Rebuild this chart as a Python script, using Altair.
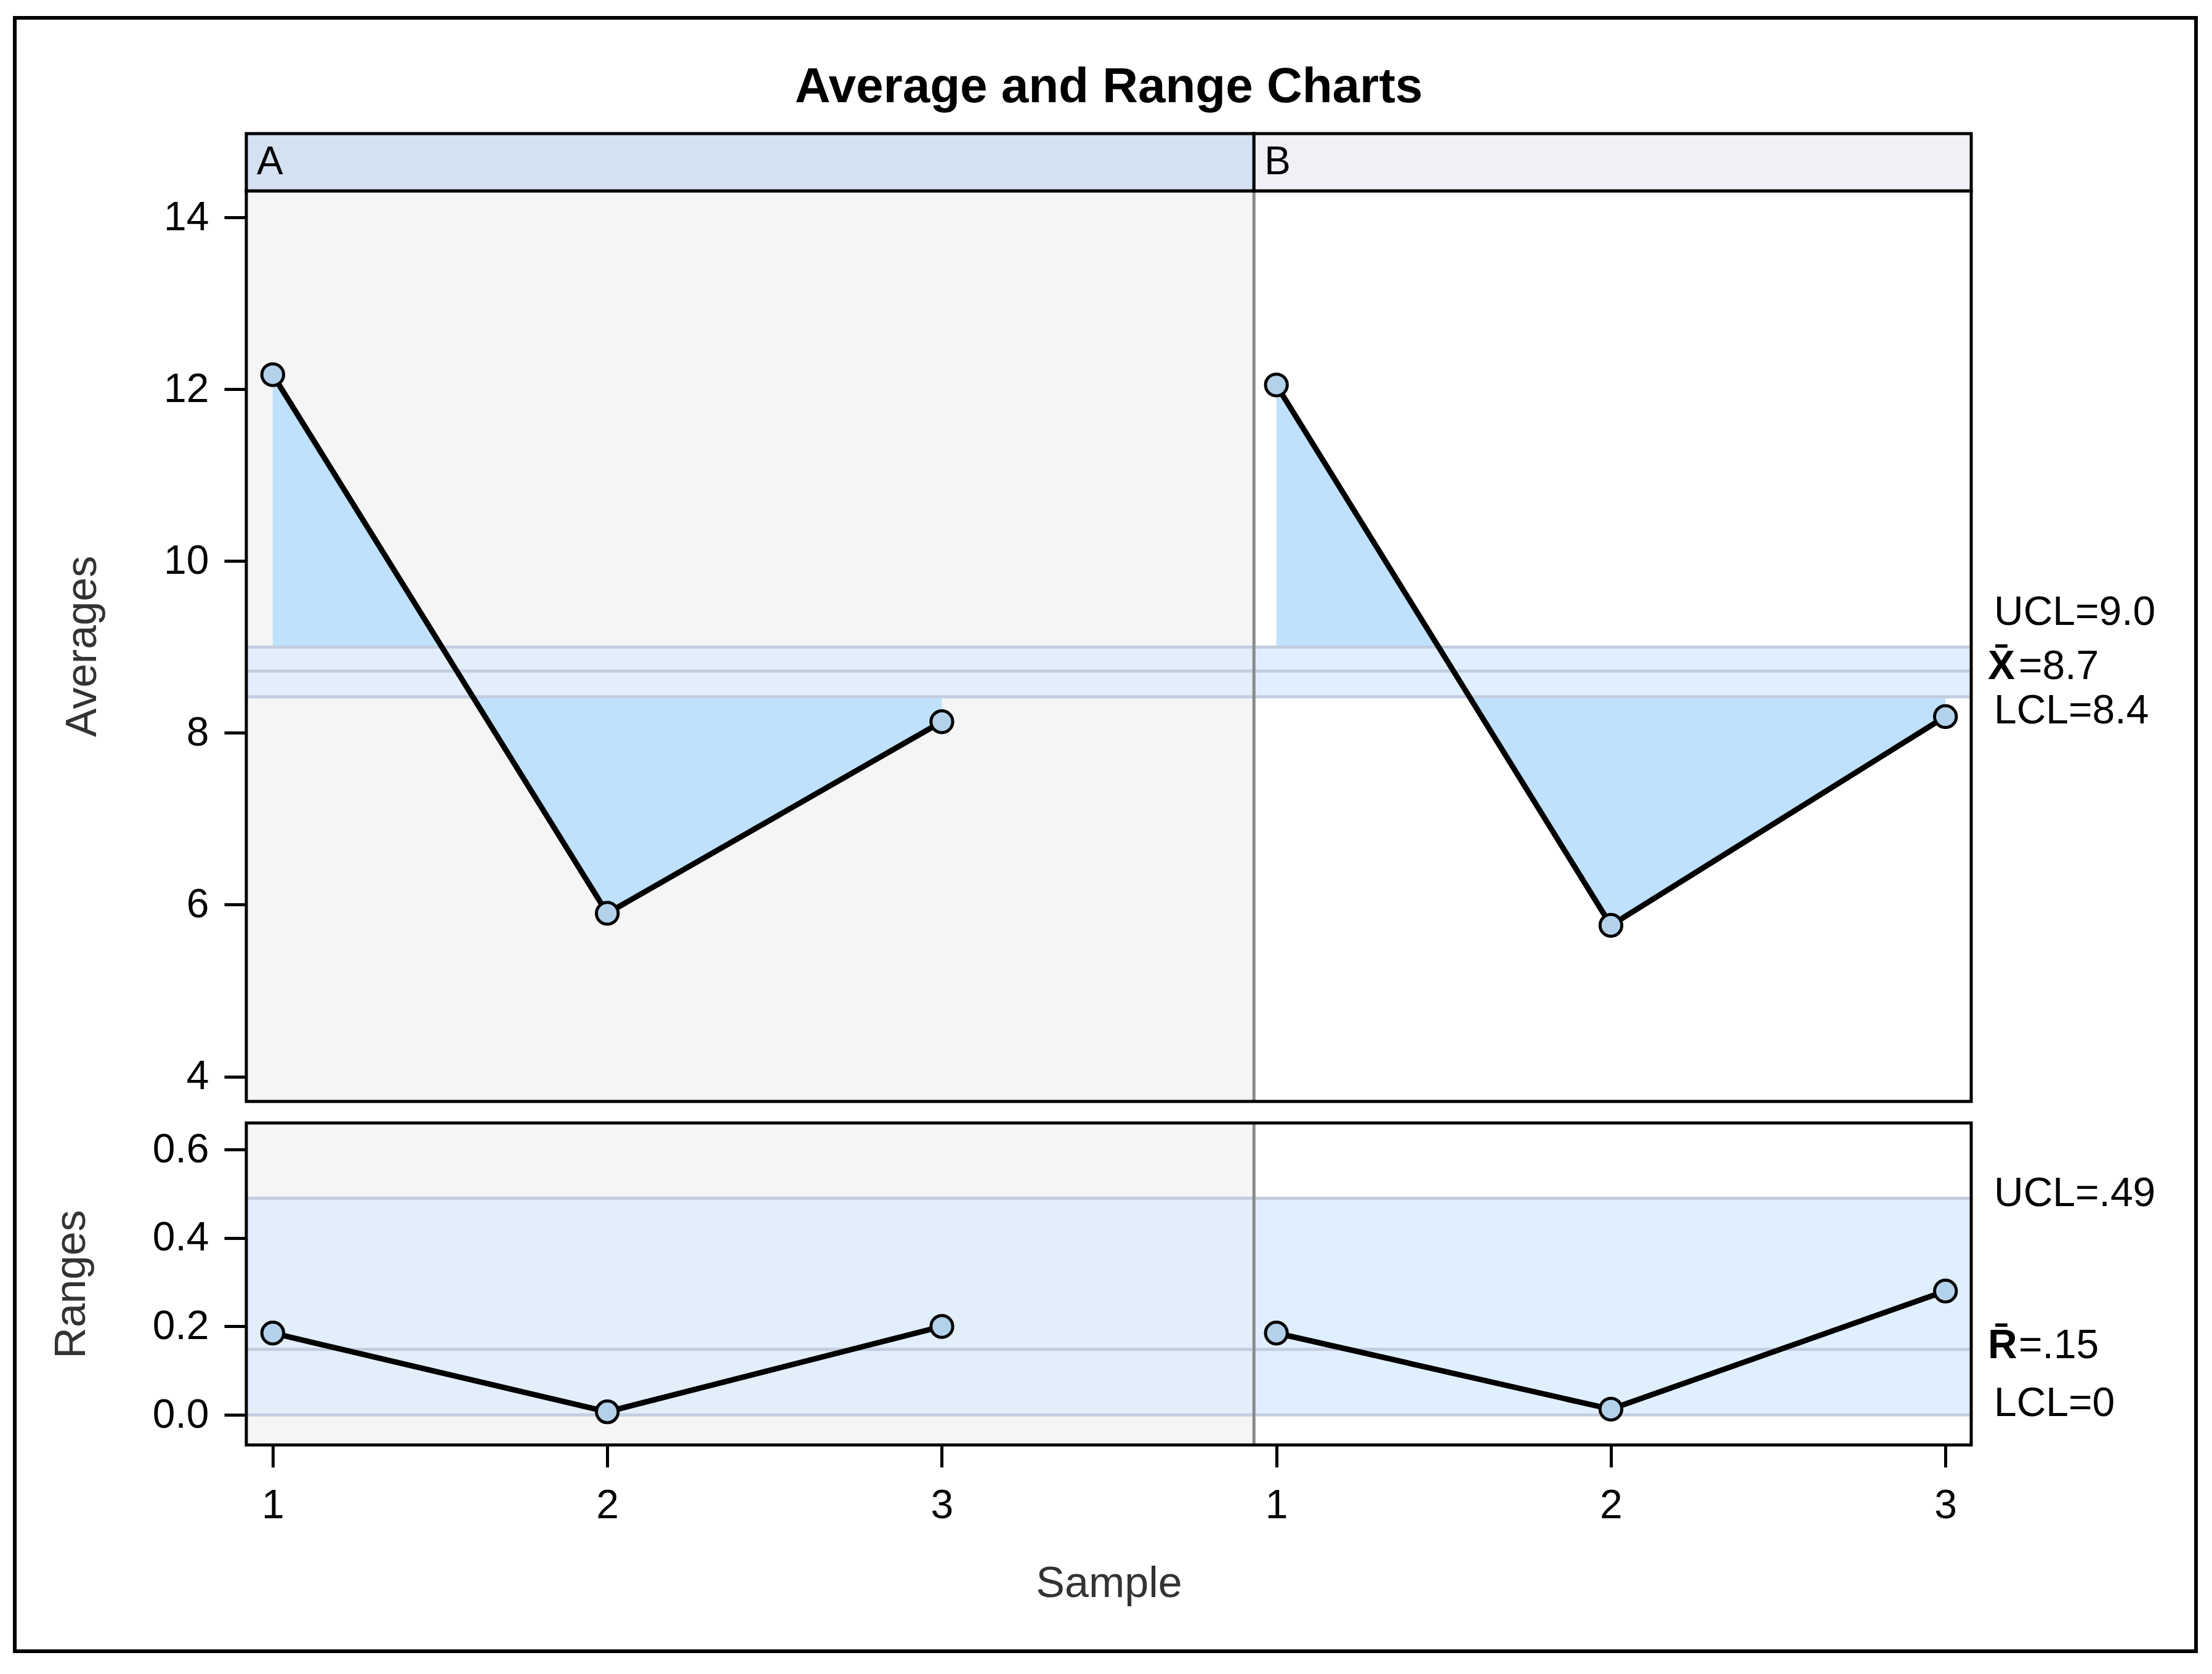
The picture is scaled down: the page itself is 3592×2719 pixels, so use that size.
import altair as alt
import pandas as pd

# ---------------- data ----------------
groups = ["A", "B"]
samples = [1, 2, 3]
averages = {"A": [12.17, 5.90, 8.13], "B": [12.05, 5.76, 8.19]}
ranges = {"A": [0.185, 0.007, 0.20], "B": [0.185, 0.013, 0.28]}

avg_limit_names = ["UCL", "X\u0304", "LCL"]
avg_limit_values = [9.0, 8.72, 8.42]
avg_limit_text = ["9.0", "8.7", "8.4"]

rng_limit_names = ["UCL", "R\u0304", "LCL"]
rng_limit_values = [0.49, 0.148, 0.0]
rng_limit_text = [".49", ".15", "0"]

avg_ticks = [4, 6, 8, 10, 12, 14]
rng_ticks = [0.0, 0.2, 0.4, 0.6]
title_text = "Average and Range Charts"
x_title = "Sample"

# ---------------- layout / style ----------------
FONT = "Liberation Sans"
W = 2801
H1 = 1479
H2 = 523
GAP = 35
HDR = 93
X_LEFT, X_DIV, X_RIGHT = 0.921, 3.933, 6.077
AVG_DOMAIN = [3.71, 14.31]
RNG_DOMAIN = [-0.068, 0.66]

hdr_colors = ["#d4e1f1", "#f0f0f7"]
bg_colors = ["#f5f5f5", "#ffffff"]
band_colors = ["#e2eef9", "#e0effd"]
FILL = "#bfe1fc"
LIMIT_LINE = "#c3cde0"
POINT_FILL = "#b3d1eb"

rows = []
for gi, g in enumerate(groups):
    for si, s in enumerate(samples):
        rows.append(dict(group=g, sample=s, idx=s + gi * len(samples),
                         avg=averages[g][si], rng=ranges[g][si]))
df = pd.DataFrame(rows)

panels = pd.DataFrame({"group": groups, "x0": [X_LEFT, X_DIV], "x1": [X_DIV, X_RIGHT],
                       "hdr": hdr_colors, "bg": bg_colors, "band": band_colors})

xscale = alt.Scale(domain=[X_LEFT, X_RIGHT], nice=False, zero=False)
one = alt.Data(values=[{"k": 1}])


def panel(field, domain, ticks, fmt, ytitle, names, values, texts, H, dys, top, xaxis):
    ys = alt.Scale(domain=domain, nice=False, zero=False)
    yax = alt.Axis(values=ticks, format=fmt, title=ytitle, labelPadding=25,
                   titlePadding=95)
    lim = pd.DataFrame({"name": names, "value": values, "text": texts})
    cl = values[1]
    d = df.assign(cl=cl, val=df[field])
    pb = panels.assign(lo=values[2], hi=values[0])

    def X(f):
        return alt.X(f, scale=xscale, axis=xaxis, title=x_title)

    layers = []
    layers.append(alt.Chart(panels).mark_rect().encode(
        x=X("x0:Q"), x2="x1:Q", y=alt.value(0), y2=alt.value(H),
        color=alt.Color("bg:N", scale=None)))
    layers.append(alt.Chart(d).mark_area(color=FILL, opacity=1, interpolate="linear").encode(
        x=X("idx:Q"), y=alt.Y("val:Q", scale=ys, axis=yax), y2="cl:Q", detail="group:N"))
    layers.append(alt.Chart(pb).mark_rect().encode(
        x=X("x0:Q"), x2="x1:Q", y=alt.Y("lo:Q", scale=ys, axis=yax), y2="hi:Q",
        color=alt.Color("band:N", scale=None)))
    layers.append(alt.Chart(lim).mark_rule(color=LIMIT_LINE, strokeWidth=5).encode(
        y=alt.Y("value:Q", scale=ys, axis=yax)))
    layers.append(alt.Chart(panels[panels.group == groups[1]]).mark_rule(
        color="#8a8a8a", strokeWidth=5).encode(x=X("x0:Q")))
    layers.append(alt.Chart(d).mark_line(color="black", strokeWidth=9).encode(
        x=X("idx:Q"), y=alt.Y("val:Q", scale=ys, axis=yax), detail="group:N"))
    layers.append(alt.Chart(d).mark_point(shape="circle", filled=True, fill=POINT_FILL,
                                          stroke="black", strokeWidth=5, size=1250,
                                          opacity=1).encode(
        x=X("idx:Q"), y=alt.Y("val:Q", scale=ys, axis=yax)))
    # plot border
    layers.append(alt.Chart(one).mark_rect(fill="transparent", stroke="black",
                                           strokeWidth=5).encode(
        x=alt.value(0), x2=alt.value(W), y=alt.value(0), y2=alt.value(H)))
    # limit labels
    for i in range(3):
        r = lim.iloc[[i]]
        if i == 1:
            layers.append(alt.Chart(r).mark_text(align="left", baseline="middle", dy=dys[i],
                                                 font=FONT, fontSize=66, fontWeight="bold",
                                                 color="black").encode(
                x=alt.value(W + 27), y=alt.Y("value:Q", scale=ys, axis=yax), text="name:N"))
            layers.append(alt.Chart(r.assign(lbl="=" + r["text"])).mark_text(
                align="left", baseline="middle", dy=dys[i], font=FONT, fontSize=66,
                color="black").encode(
                x=alt.value(W + 77), y=alt.Y("value:Q", scale=ys, axis=yax), text="lbl:N"))
        else:
            layers.append(alt.Chart(r.assign(lbl=r["name"] + "=" + r["text"])).mark_text(
                align="left", baseline="middle", dy=dys[i], font=FONT, fontSize=66,
                color="black").encode(
                x=alt.value(W + 37), y=alt.Y("value:Q", scale=ys, axis=yax), text="lbl:N"))
    if top:
        layers.append(alt.Chart(panels).mark_rect(stroke="black", strokeWidth=5).encode(
            x=X("x0:Q"), x2="x1:Q", y=alt.value(-HDR), y2=alt.value(0),
            color=alt.Color("hdr:N", scale=None)))
        layers.append(alt.Chart(panels).mark_text(align="left", baseline="middle", dx=17,
                                                  font=FONT, fontSize=64,
                                                  color="black").encode(
            x=X("x0:Q"), y=alt.value(-HDR / 2), text="group:N"))
        layers.append(alt.Chart(one).mark_text(text=title_text, font=FONT, fontSize=80,
                                               fontWeight="bold", align="center",
                                               baseline="alphabetic", color="black").encode(
            x=alt.value(W / 2), y=alt.value(-144)))
        layers.append(alt.Chart(one).mark_rect(fill="transparent", stroke="black",
                                               strokeWidth=6).encode(
            x=alt.value(-376), x2=alt.value(3166), y=alt.value(-281), y2=alt.value(2372)))
    return alt.layer(*layers).properties(width=W, height=H)


top = panel("avg", AVG_DOMAIN, avg_ticks, "d", "Averages", avg_limit_names,
            avg_limit_values, avg_limit_text, H1, [-56, -7, 23], True, None)
xax = alt.Axis(values=[1, 2, 3, 4, 5, 6], labelExpr="datum.value > 3 ? datum.value - 3 : datum.value",
               labelPadding=30, titlePadding=60, title=x_title)
bottom = panel("rng", RNG_DOMAIN, rng_ticks, ".1f", "Ranges", rng_limit_names,
               rng_limit_values, rng_limit_text, H2, [-7, -6, -18], False, xax)

chart = alt.vconcat(top, bottom, spacing=GAP, bounds="flush").resolve_scale(
    x="shared", y="independent"
).properties(
    padding={"left": 12, "top": 17, "right": 10, "bottom": 10}
).configure_view(stroke="transparent").configure_axis(
    labelFont=FONT, titleFont=FONT, labelFontSize=66, titleFontSize=70,
    titleFontWeight="normal", labelColor="black", titleColor="#333333",
    tickColor="black", tickWidth=5, tickSize=36, grid=False, domain=False
)

chart.save("out.html", embed_options={"renderer": "svg", "actions": False})
